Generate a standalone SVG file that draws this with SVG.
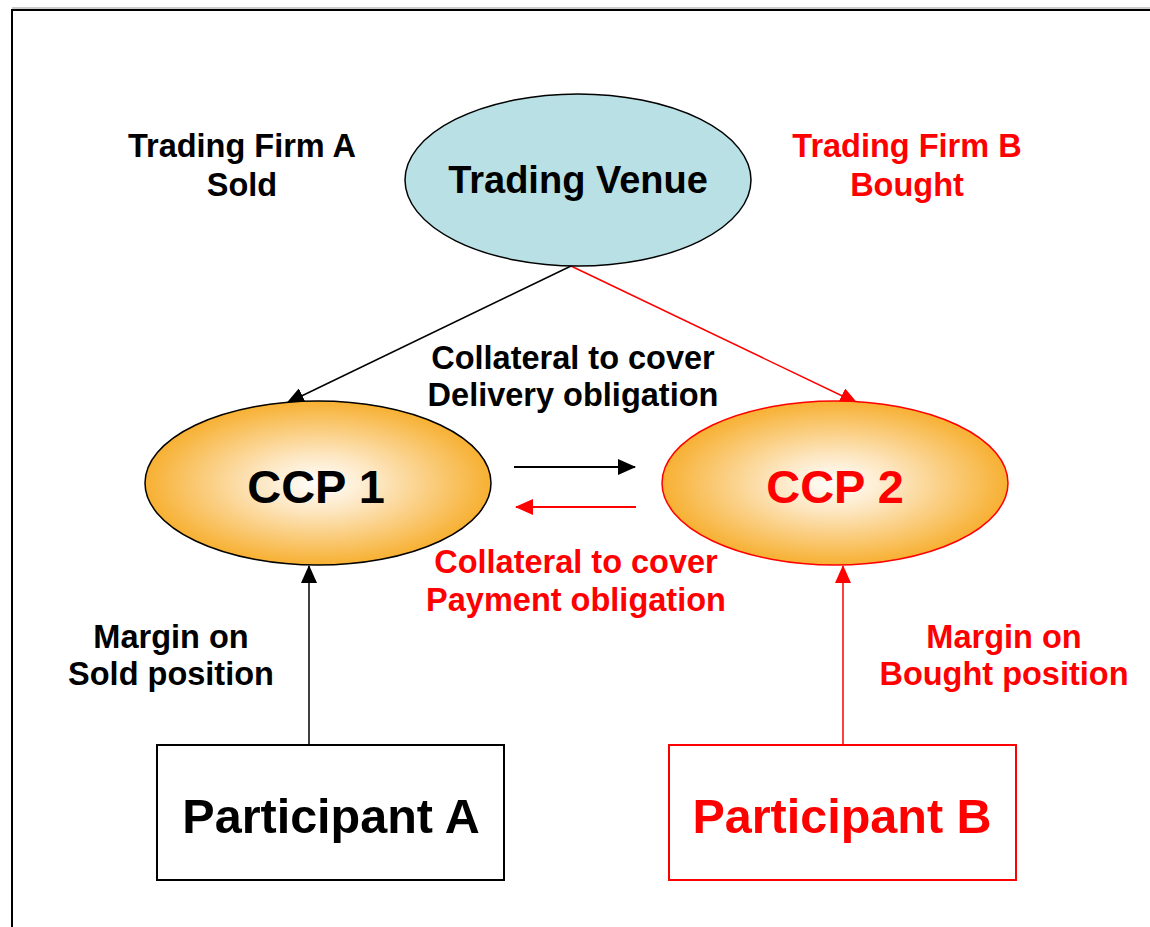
<svg xmlns="http://www.w3.org/2000/svg" width="1150" height="927" viewBox="0 0 1150 927">
<style>
text{font-family:"Liberation Sans",Arial,sans-serif;font-weight:bold;text-anchor:middle}
.lbl{font-size:32.5px}
.red{fill:#ff0000}
.blk{fill:#000000}
</style>
<defs>
<radialGradient id="ccp" cx="50%" cy="50%" r="50%">
<stop offset="0" stop-color="#ffffff"/>
<stop offset="0.35" stop-color="#fde6c0"/>
<stop offset="1" stop-color="#f7b032"/>
</radialGradient>
<marker id="ab" markerWidth="18" markerHeight="16" refX="17" refY="8" orient="auto" markerUnits="userSpaceOnUse"><path d="M0,0 L18,8 L0,16 Z" fill="#000"/></marker>
<marker id="ar" markerWidth="18" markerHeight="16" refX="17" refY="8" orient="auto" markerUnits="userSpaceOnUse"><path d="M0,0 L18,8 L0,16 Z" fill="#ff0000"/></marker>
</defs>
<rect x="0" y="0" width="1150" height="927" fill="#fff"/>
<line x1="12" y1="8" x2="1150" y2="8" stroke="#999" stroke-width="1"/>
<rect x="12" y="10" width="1160" height="940" fill="none" stroke="#000" stroke-width="2"/>
<g id="connectors">
<line x1="571" y1="266" x2="287" y2="403" stroke="#000" stroke-width="1.5" marker-end="url(#ab)"/>
<line x1="571" y1="266" x2="857" y2="403" stroke="#ff0000" stroke-width="1.5" marker-end="url(#ar)"/>
<line x1="514" y1="467" x2="635" y2="467" stroke="#000" stroke-width="2" marker-end="url(#ab)"/>
<line x1="636" y1="507" x2="516" y2="507" stroke="#ff0000" stroke-width="2" marker-end="url(#ar)"/>
<line x1="309" y1="745" x2="309" y2="566" stroke="#000" stroke-width="1.5" marker-end="url(#ab)"/>
<line x1="843" y1="745" x2="843" y2="566" stroke="#ff0000" stroke-width="1.5" marker-end="url(#ar)"/>
</g>
<g id="firmA">
<text class="lbl blk" x="242" y="157">Trading Firm A</text>
<text class="lbl blk" x="242" y="196">Sold</text>
</g>
<g id="firmB">
<text class="lbl red" x="907" y="157">Trading Firm B</text>
<text class="lbl red" x="907" y="196">Bought</text>
</g>
<g id="venue">
<ellipse cx="578" cy="180" rx="173" ry="86" fill="#b9e0e4" stroke="#000" stroke-width="1.5"/>
<text class="blk" x="578" y="193" font-size="38">Trading Venue</text>
</g>
<g id="delivery">
<text class="lbl blk" x="573" y="369">Collateral to cover</text>
<text class="lbl blk" x="573" y="406">Delivery obligation</text>
</g>
<g id="ccp1">
<ellipse cx="318" cy="483" rx="173" ry="82" fill="url(#ccp)" stroke="#000" stroke-width="1.5"/>
<text class="blk" x="316" y="503" font-size="47">CCP 1</text>
</g>
<g id="ccp2">
<ellipse cx="835" cy="483" rx="173" ry="82" fill="url(#ccp)" stroke="#ff0000" stroke-width="1.5"/>
<text class="red" x="835" y="503" font-size="47">CCP 2</text>
</g>
<g id="payment">
<text class="lbl red" x="576" y="573">Collateral to cover</text>
<text class="lbl red" x="576" y="611">Payment obligation</text>
</g>
<g id="marginA">
<text class="lbl blk" x="171" y="648">Margin on</text>
<text class="lbl blk" x="171" y="685">Sold position</text>
</g>
<g id="marginB">
<text class="lbl red" x="1004" y="648">Margin on</text>
<text class="lbl red" x="1004" y="685">Bought position</text>
</g>
<g id="partA">
<rect x="157" y="745" width="347" height="135" fill="#fff" stroke="#000" stroke-width="2"/>
<text class="blk" x="331" y="833" font-size="48.5">Participant A</text>
</g>
<g id="partB">
<rect x="669" y="745" width="347" height="135" fill="#fff" stroke="#ff0000" stroke-width="2"/>
<text class="red" x="842" y="833" font-size="48.5">Participant B</text>
</g>
</svg>
